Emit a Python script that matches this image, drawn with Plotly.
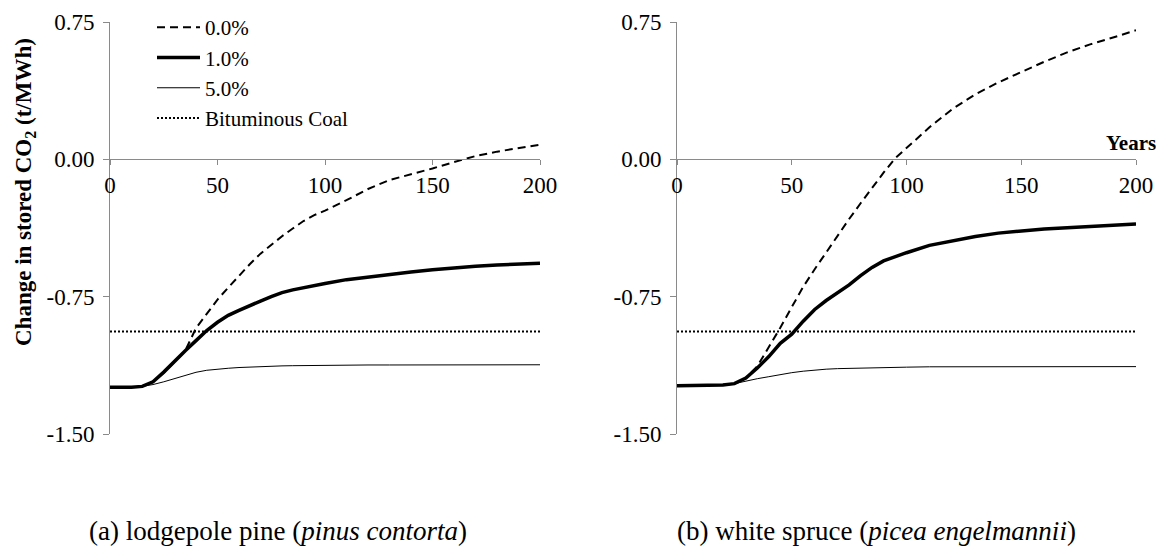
import plotly.graph_objects as go

# ---------------- data ----------------
years = [0, 10, 15, 20, 25, 30, 35, 40, 45, 50, 55, 60, 65, 70, 75, 80, 85, 90, 95,
         100, 110, 120, 130, 140, 150, 160, 170, 180, 190, 200]

# (a) lodgepole pine
pine_0 = [-1.245, -1.245, -1.240, -1.215, -1.165, -1.102, -1.045, -0.922, -0.847, -0.766,
          -0.700, -0.634, -0.573, -0.515, -0.466, -0.420, -0.378, -0.337, -0.305,
          -0.280, -0.223, -0.162, -0.113, -0.083, -0.050, -0.015, 0.018, 0.042, 0.063, 0.080]
pine_1 = [-1.245, -1.245, -1.240, -1.215, -1.162, -1.100, -1.045, -0.990, -0.935, -0.890,
          -0.852, -0.825, -0.798, -0.774, -0.750, -0.728, -0.713, -0.700, -0.688,
          -0.678, -0.657, -0.642, -0.627, -0.615, -0.603, -0.592, -0.584, -0.577, -0.572, -0.568]
pine_5 = [-1.245, -1.245, -1.240, -1.230, -1.215, -1.198, -1.180, -1.163, -1.152, -1.145,
          -1.141, -1.137, -1.134, -1.131, -1.129, -1.128, -1.127, -1.126, -1.125,
          -1.125, -1.124, -1.123, -1.123, -1.123, -1.122, -1.122, -1.122, -1.122, -1.122, -1.122]

# (b) white spruce
spruce_0 = [-1.236, -1.236, -1.236, -1.232, -1.225, -1.195, -1.130, -1.025, -0.920, -0.807,
            -0.696, -0.600, -0.507, -0.415, -0.326, -0.240, -0.156, -0.073, 0.005,
            0.063, 0.175, 0.275, 0.355, 0.420, 0.477, 0.533, 0.584, 0.628, 0.665, 0.705]
spruce_1 = [-1.236, -1.236, -1.236, -1.232, -1.225, -1.195, -1.140, -1.077, -1.005, -0.955,
            -0.884, -0.820, -0.771, -0.727, -0.686, -0.635, -0.590, -0.555, -0.532,
            -0.510, -0.470, -0.444, -0.421, -0.403, -0.390, -0.380, -0.373, -0.366, -0.360, -0.353]
spruce_5 = [-1.236, -1.236, -1.236, -1.233, -1.225, -1.210, -1.198, -1.187, -1.175, -1.165,
            -1.157, -1.150, -1.146, -1.143, -1.141, -1.139, -1.138, -1.137, -1.136,
            -1.135, -1.133, -1.133, -1.132, -1.132, -1.132, -1.132, -1.132, -1.132, -1.132, -1.132]

coal_years = [0, 200]
coal_value = [-0.94, -0.94]

series_names = ["0.0%", "1.0%", "5.0%", "Bituminous Coal"]
x_ticks = [0, 50, 100, 150, 200]
y_ticks = [0.75, 0.0, -0.75, -1.5]
y_tick_labels = ["0.75", "0.00", "-0.75", "-1.50"]
captions = ["(a) lodgepole pine (<i>pinus contorta</i>)",
            "(b) white spruce (<i>picea engelmannii</i>)"]
y_title = "<b>Change in stored CO<sub>2</sub> (t/MWh)</b>"
x_title = "<b>Years</b>"

# ---------------- figure ----------------
# the page body has an 8px margin, so the figure is drawn 8px in from the window corner
OFF = 8
W, H = 1164 - OFF, 546 - OFF
ML, MR, MT, MB = 110 - OFF, 1164 - 1136, 22 - OFF, 546 - 434
PW, PH = W - ML - MR, H - MT - MB
FONT = "Liberation Serif"
AXC = "#8a8a8a"


def px(xw):
    return (xw - OFF - ML) / PW


def py(yw):
    return (H - MB - (yw - OFF)) / PH


fig = go.Figure()

styles = [
    dict(color="black", width=2, dash="8px,5px"),
    dict(color="black", width=3.5),
    dict(color="black", width=1),
    dict(color="black", width=2, dash="2px,2px"),
]

panels = [
    ("x", "y", [pine_0, pine_1, pine_5], True),
    ("x2", "y2", [spruce_0, spruce_1, spruce_5], False),
]
for xa, ya, sers, show in panels:
    for name, vals, st in zip(series_names[:3], sers, styles[:3]):
        fig.add_trace(go.Scatter(x=years, y=vals, mode="lines", name=name,
                                 line=st, xaxis=xa, yaxis=ya, showlegend=show))
    fig.add_trace(go.Scatter(x=coal_years, y=coal_value, mode="lines", name=series_names[3],
                             line=styles[3], xaxis=xa, yaxis=ya, showlegend=show))

yzero = (0 - (-1.5)) / 2.25

xcommon = dict(range=[0, 200], tickvals=x_ticks, showgrid=False, zeroline=False,
               showline=True, linecolor=AXC, linewidth=1, ticks="outside", ticklen=5,
               tickcolor=AXC, tickfont=dict(family=FONT, size=23, color="black"),
               anchor="free", position=yzero, automargin=False,
               fixedrange=True)
ycommon = dict(range=[-1.5, 0.75], tickvals=y_ticks, ticktext=y_tick_labels,
               showgrid=False, zeroline=False, showline=True, linecolor=AXC, linewidth=1,
               ticks="outside", ticklen=6, tickcolor=AXC, domain=[0, 1], automargin=False,
               ticklabelstandoff=4,
               tickfont=dict(family=FONT, size=23, color="black"), fixedrange=True)

fig.update_layout(
    width=W, height=H, autosize=False,
    margin=dict(l=ML, r=MR, t=MT, b=MB, pad=0, autoexpand=False),
    paper_bgcolor="white", plot_bgcolor="white",
    font=dict(family=FONT, color="black"),
    xaxis=dict(domain=[px(110), px(540)], **xcommon),
    xaxis2=dict(domain=[px(677), px(1136)], **xcommon),
    yaxis=dict(anchor="x", **ycommon),
    yaxis2=dict(anchor="x2", **ycommon),
    legend=dict(x=px(152), y=py(7), xanchor="left", yanchor="top",
                bgcolor="rgba(0,0,0,0)", font=dict(family=FONT, size=21, color="black"),
                itemwidth=43, tracegroupgap=0),
    showlegend=True,
)

fig.add_annotation(text=y_title, xref="paper", yref="paper", x=px(25), y=py(192),
                   textangle=-90, showarrow=False, xanchor="center", yanchor="middle",
                   font=dict(family=FONT, size=23, color="black"))
fig.add_annotation(text=x_title, xref="paper", yref="paper", x=px(1158), y=py(157),
                   showarrow=False, xanchor="right", yanchor="bottom",
                   font=dict(family=FONT, size=21, color="black"))
for cap, cx in zip(captions, [278, 876]):
    fig.add_annotation(text=cap, xref="paper", yref="paper", x=px(cx), y=py(531),
                       showarrow=False, xanchor="center", yanchor="middle",
                       font=dict(family=FONT, size=27, color="black"))

fig.write_html("out.html")
